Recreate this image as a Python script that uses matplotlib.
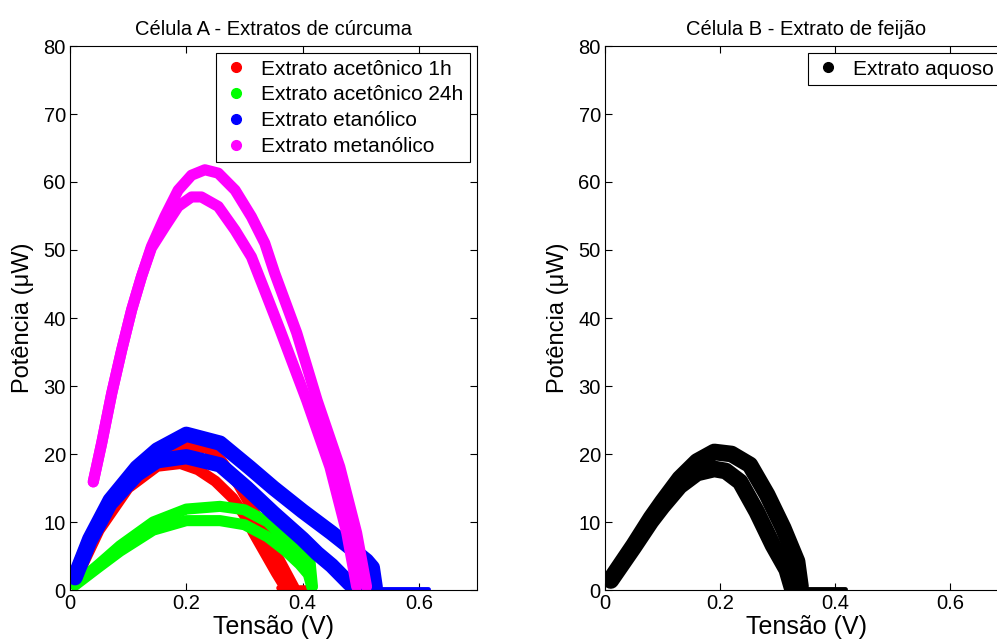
import matplotlib
matplotlib.use("Agg")
import matplotlib.pyplot as plt
from matplotlib.lines import Line2D

plt.rcParams['font.family'] = ['Liberation Sans', 'DejaVu Sans']

# ---------------- data ----------------
# Célula A
red_up_x = [0.01, 0.05, 0.10, 0.15, 0.20, 0.235, 0.26, 0.29, 0.31, 0.33, 0.35, 0.37, 0.385]
red_up_y = [1.8, 9.4, 15.8, 19.6, 21.2, 20.9, 19.0, 15.5, 12.5, 9.5, 6.0, 2.8, 0.4]
red_lo_x = [0.01, 0.05, 0.10, 0.15, 0.19, 0.22, 0.25, 0.28, 0.30, 0.315, 0.335, 0.355, 0.37]
red_lo_y = [1.6, 8.8, 15.0, 18.2, 18.6, 17.7, 16.0, 13.5, 11.0, 8.5, 5.5, 2.5, 0.4]
red_tail_x = [0.36, 0.41]
red_tail_y = [0.3, 0.3]

green_up_x = [0.0086, 0.05, 0.086, 0.143, 0.20, 0.258, 0.30, 0.34, 0.366, 0.39, 0.413, 0.417]
green_up_y = [0.8, 3.8, 6.5, 10.0, 11.9, 12.3, 11.8, 10.0, 7.8, 5.8, 4.0, 0.5]
green_lo_x = [0.0086, 0.05, 0.086, 0.143, 0.20, 0.258, 0.30, 0.34, 0.37, 0.395, 0.41, 0.416]
green_lo_y = [0.7, 3.4, 5.7, 8.8, 10.2, 10.2, 9.6, 7.8, 5.8, 3.8, 2.3, 0.4]

blue_up_x = [0.0086, 0.034, 0.069, 0.115, 0.15, 0.20, 0.258, 0.309, 0.35, 0.40, 0.45, 0.481, 0.51, 0.52, 0.525]
blue_up_y = [2.0, 7.5, 13.2, 18.0, 20.6, 22.9, 21.6, 18.0, 15.0, 11.6, 8.4, 6.3, 4.3, 3.3, 0.4]
blue_lo_x = [0.0086, 0.034, 0.069, 0.115, 0.15, 0.20, 0.258, 0.304, 0.35, 0.40, 0.425, 0.45, 0.48, 0.49]
blue_lo_y = [1.8, 7.2, 12.7, 17.0, 19.0, 19.6, 18.4, 15.0, 11.3, 7.5, 5.4, 3.6, 1.0, 0.3]
blue_tail_x = [0.49, 0.615]
blue_tail_y = [0.2, 0.2]

mag_up_x = [0.040, 0.0545, 0.0717, 0.0889, 0.106, 0.123, 0.140, 0.163, 0.186, 0.209, 0.232, 0.255,
            0.284, 0.312, 0.335, 0.352, 0.390, 0.425, 0.464, 0.493, 0.51]
mag_up_y = [15.9, 21.6, 28.9, 35.3, 41.2, 46.1, 50.5, 54.9, 58.8, 61.0, 61.8, 61.3,
            58.8, 54.9, 51.0, 46.6, 37.8, 27.9, 18.1, 8.4, 0.5]
mag_lo_x = [0.040, 0.0545, 0.0717, 0.0889, 0.106, 0.123, 0.140, 0.163, 0.186, 0.209, 0.226, 0.255,
            0.284, 0.312, 0.335, 0.361, 0.407, 0.447, 0.476, 0.493]
mag_lo_y = [15.9, 21.6, 28.9, 35.3, 41.2, 46.1, 50.3, 53.4, 56.4, 57.8, 57.8, 56.4,
            52.9, 49.0, 44.0, 38.3, 27.9, 18.1, 8.4, 0.5]

# Célula B
blk_up_x = [0.01, 0.05, 0.08, 0.10, 0.13, 0.16, 0.19, 0.22, 0.252, 0.282, 0.31, 0.334, 0.34]
blk_up_y = [1.6, 6.6, 10.6, 13.0, 16.4, 18.9, 20.3, 20.0, 18.4, 14.0, 9.1, 4.2, 0.5]
blk_lo_x = [0.01, 0.05, 0.08, 0.10, 0.13, 0.16, 0.19, 0.21, 0.235, 0.264, 0.292, 0.316, 0.325]
blk_lo_y = [1.4, 6.3, 10.1, 12.3, 15.3, 17.2, 17.8, 17.5, 15.9, 11.5, 6.6, 3.0, 0.4]
blk_tail_x = [0.33, 0.417]
blk_tail_y = [0.2, 0.2]

labels_A = ["Extrato acetônico 1h", "Extrato acetônico 24h", "Extrato etanólico", "Extrato metanólico"]
colors_A = ["#FF0000", "#00FF00", "#0000FF", "#FF00FF"]
label_B = "Extrato aquoso"

xticks = [0, 0.2, 0.4, 0.6]
xticklabels = ["0", "0.2", "0.4", "0.6"]
yticks = [0, 10, 20, 30, 40, 50, 60, 70, 80]

# ---------------- figure ----------------
fig = plt.figure(figsize=(9.97, 6.41), dpi=100)
axA = fig.add_axes([70/997, 51/641, 407/997, 544/641])
axB = fig.add_axes([605/997, 51/641, 402.5/997, 544/641])

kw = dict(solid_capstyle='round', solid_joinstyle='round')

def band(ax, x, y, c, lw):
    ax.plot(x, y, color=c, lw=lw, **kw)

band(axA, red_up_x, red_up_y, colors_A[0], 8)
band(axA, red_lo_x, red_lo_y, colors_A[0], 8)
band(axA, red_tail_x, red_tail_y, colors_A[0], 4)
band(axA, green_up_x, green_up_y, colors_A[1], 8)
band(axA, green_lo_x, green_lo_y, colors_A[1], 8)
band(axA, blue_up_x, blue_up_y, colors_A[2], 11)
band(axA, blue_lo_x, blue_lo_y, colors_A[2], 11)
band(axA, blue_tail_x, blue_tail_y, colors_A[2], 3.5)
band(axA, mag_up_x, mag_up_y, colors_A[3], 8)
band(axA, mag_lo_x, mag_lo_y, colors_A[3], 8)

band(axB, blk_up_x, blk_up_y, 'black', 12)
band(axB, blk_lo_x, blk_lo_y, 'black', 12)
band(axB, blk_tail_x, blk_tail_y, 'black', 3.5)

for ax, title in [(axA, "Célula A - Extratos de cúrcuma"), (axB, "Célula B - Extrato de feijão")]:
    ax.set_xlim(0, 0.7)
    ax.set_ylim(0, 80)
    ax.set_xticks(xticks)
    ax.set_xticklabels(xticklabels)
    ax.set_yticks(yticks)
    ax.tick_params(direction='in', top=True, right=True, length=5, width=0.8,
                   labelsize=14.5, pad=3)
    ax.set_xlabel("Tensão (V)", fontsize=18, labelpad=1)
    ax.set_ylabel("Potência (μW)", fontsize=17, labelpad=7)
    ax.set_title(title, fontsize=14.5, pad=8)
    for s in ax.spines.values():
        s.set_linewidth(0.8)
        s.set_color('black')

hA = [Line2D([], [], ls='none', marker='o', markersize=7, color=c) for c in colors_A]
legA = axA.legend(hA, labels_A, loc='upper right', fontsize=15, frameon=True, fancybox=False,
                  edgecolor='black', framealpha=1, borderaxespad=0.35, handlelength=1.3,
                  handletextpad=0.55, labelspacing=0.33, borderpad=0.3)
legA.get_frame().set_linewidth(0.8)

hB = [Line2D([], [], ls='none', marker='o', markersize=7, color='black')]
legB = axB.legend(hB, [label_B], loc='upper right', fontsize=15, frameon=True, fancybox=False,
                  edgecolor='black', framealpha=1, borderaxespad=0.35, handlelength=1.3,
                  handletextpad=0.55, borderpad=0.3)
legB.get_frame().set_linewidth(0.8)

fig.savefig("out.png", dpi=100)
